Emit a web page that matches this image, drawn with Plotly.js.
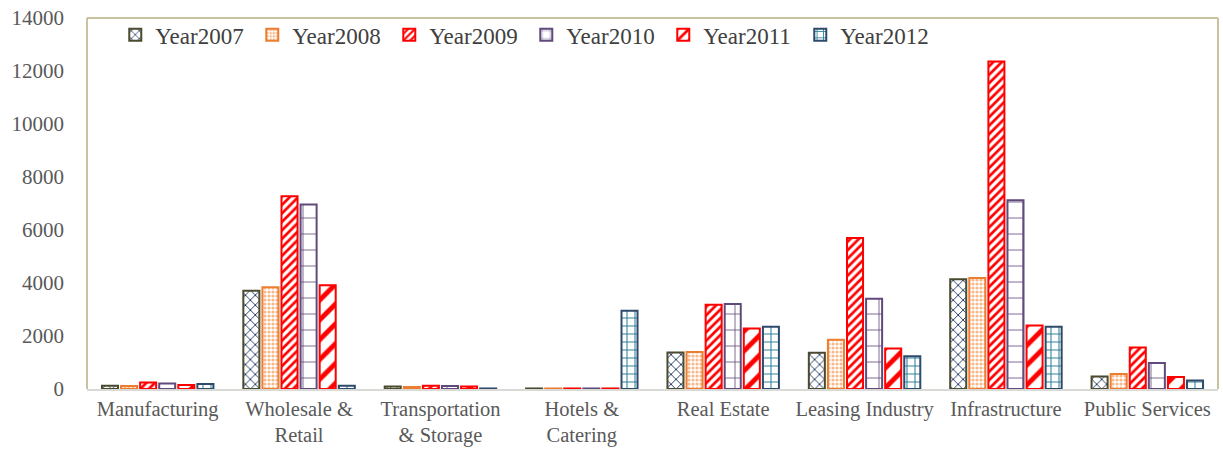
<!DOCTYPE html>
<html>
<head>
<meta charset="utf-8">
<script src="https://cdn.plot.ly/plotly-3.0.1.min.js"></script>
<style>html,body{margin:0;padding:0;background:#fff;}#chart{width:1223px;height:451px;}</style>
</head>
<body>
<div id="chart"></div>
<script>
const categories = ["Manufacturing", "Wholesale &<br>Retail", "Transportation<br>& Storage", "Hotels &<br>Catering", "Real Estate", "Leasing Industry", "Infrastructure", "Public Services"];
const seriesNames = ["Year2007", "Year2008", "Year2009", "Year2010", "Year2011", "Year2012"];
const year2007 = [125, 3710, 90, 20, 1380, 1365, 4140, 475];
const year2008 = [115, 3840, 80, 20, 1400, 1855, 4190, 565];
const year2009 = [250, 7275, 120, 20, 3175, 5700, 12360, 1565];
const year2010 = [210, 6960, 110, 20, 3210, 3410, 7125, 980];
const year2011 = [150, 3915, 90, 20, 2280, 1530, 2395, 450];
const year2012 = [190, 125, 20, 2950, 2345, 1240, 2345, 325];
const yTicks = [0, 2000, 4000, 6000, 8000, 10000, 12000, 14000];

const values = [year2007, year2008, year2009, year2010, year2011, year2012];
const styles = [
  {line: "#4a4a2e", pattern: {shape: "x", fgcolor: "#1f3864", bgcolor: "#ffffff", size: 7, solidity: 0.25}},
  {line: "#ed7d31", pattern: {shape: ".", fgcolor: "#f8b98a", bgcolor: "#ffffff", size: 4, solidity: 0.5}},
  {line: "#ff0000", pattern: {shape: "/", fgcolor: "#ff0000", bgcolor: "#ffffff", size: 6, solidity: 0.45}},
  {line: "#604a7b", pattern: {shape: "+", fgcolor: "#604a7b", bgcolor: "#ffffff", size: 16, solidity: 0.1}},
  {line: "#ff0000", pattern: {shape: "/", fgcolor: "#ff0000", bgcolor: "#ffffff", size: 14, solidity: 0.35}},
  {line: "#2e4a6b", pattern: {shape: "+", fgcolor: "#31849b", bgcolor: "#ffffff", size: 8, solidity: 0.25}}
];

const traces = seriesNames.map((name, i) => ({
  type: "bar",
  name: name,
  x: categories,
  y: values[i],
  marker: {
    color: "#ffffff",
    line: {color: styles[i].line, width: 2},
    pattern: styles[i].pattern
  },
  hoverinfo: "x+y+name"
}));

const FAMILY = "Liberation Serif, Times New Roman, serif";
function mkFont(size, color) { return {family: FAMILY, color: color, size: size}; }

const layout = {
  width: 1223,
  height: 451,
  margin: {l: 87, r: 5, t: 18, b: 62},
  paper_bgcolor: "#ffffff",
  plot_bgcolor: "#ffffff",
  font: mkFont(20.5, "#595959"),
  barmode: "group",
  bargap: 0.19,
  bargroupgap: 0.16,
  showlegend: true,
  legend: {
    orientation: "h",
    x: 0.025, xanchor: "left",
    y: 0.955, yanchor: "middle",
    font: mkFont(23, "#404040"),
    bgcolor: "rgba(0,0,0,0)",
    entrywidth: 92,
    itemwidth: 30,
    traceorder: "normal"
  },
  xaxis: {
    type: "category",
    range: [-0.5, 7.5],
    showline: true,
    linecolor: "#d9d9d6",
    linewidth: 2,
    showgrid: false,
    zeroline: false,
    ticks: "",
    tickfont: mkFont(20.5, "#595959"),
    fixedrange: true
  },
  yaxis: {
    range: [0, 14000],
    tickvals: yTicks,
    ticktext: yTicks.map(String),
    showline: false,
    showgrid: false,
    zeroline: false,
    ticks: "",
    ticklabelstandoff: 22,
    tickfont: mkFont(21, "#595959"),
    fixedrange: true
  },
  shapes: [
    {type: "line", xref: "paper", yref: "paper", x0: 0, x1: 0, y0: 0, y1: 1, line: {color: "#c9c29f", width: 2}, layer: "below"},
    {type: "line", xref: "paper", yref: "paper", x0: 0, x1: 1, y0: 1, y1: 1, line: {color: "#c9c29f", width: 2}, layer: "below"},
    {type: "line", xref: "paper", yref: "paper", x0: 1, x1: 1, y0: 0, y1: 1, line: {color: "#c9c29f", width: 2}, layer: "below"}
  ]
};

Plotly.newPlot("chart", traces, layout, {displayModeBar: false, staticPlot: true});
</script>
</body>
</html>
